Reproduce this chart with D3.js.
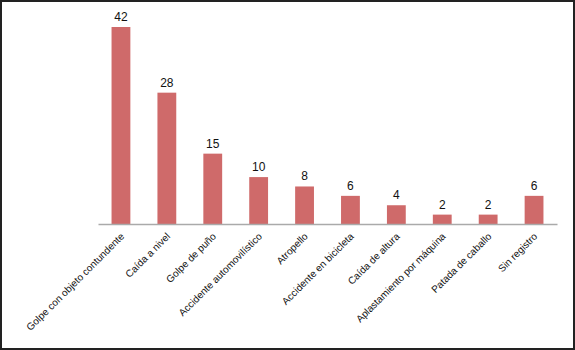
<!DOCTYPE html>
<html>
<head>
<meta charset="utf-8">
<script src="https://cdn.jsdelivr.net/npm/d3@7"></script>
<style>
  body { margin: 0; background: #fff; }
  svg { display: block; }
</style>
</head>
<body>
<div id="chart"></div>
<script>
var categories = ["Golpe con objeto contundente", "Caída a nivel", "Golpe de puño",
  "Accidente automovilístico", "Atropello", "Accidente en bicicleta", "Caída de altura",
  "Aplastamiento por máquina", "Patada de caballo", "Sin registro"];
var values = [42, 28, 15, 10, 8, 6, 4, 2, 2, 6];

var W = 575, H = 350;
var margin = { top: 27, right: 18, bottom: 126, left: 98 },
  width = W - margin.left - margin.right,
  height = H - margin.top - margin.bottom;

var root = d3.select("#chart")
  .append("svg")
  .attr("width", W)
  .attr("height", H);

root.append("rect")
  .attr("x", 1).attr("y", 1)
  .attr("width", W - 2).attr("height", H - 2)
  .attr("fill", "#fff")
  .attr("stroke", "#222")
  .attr("stroke-width", 2);

var svg = root.append("g")
  .attr("transform", "translate(" + margin.left + "," + margin.top + ")");

var x = d3.scaleBand()
  .domain(categories)
  .range([0, width])
  .paddingInner(0.59)
  .paddingOuter(0.295);

var y = d3.scaleLinear()
  .domain([0, 42])
  .range([height, 0]);

svg.selectAll("rect.bar")
  .data(values)
  .enter()
  .append("rect")
  .attr("class", "bar")
  .attr("x", function (d, i) { return x(categories[i]); })
  .attr("y", function (d) { return y(d); })
  .attr("width", x.bandwidth())
  .attr("height", function (d) { return height - y(d); })
  .attr("fill", "#cf6a6a");

svg.selectAll("text.val")
  .data(values)
  .enter()
  .append("text")
  .attr("class", "val")
  .attr("x", function (d, i) { return x(categories[i]) + x.bandwidth() / 2; })
  .attr("y", function (d) { return y(d) - 6; })
  .attr("text-anchor", "middle")
  .style("font-family", "Liberation Sans, Arial, sans-serif")
  .style("font-size", "12px")
  .attr("fill", "#111")
  .text(function (d) { return d; });

var xAxis = svg.append("g")
  .attr("transform", "translate(0," + height + ")")
  .call(d3.axisBottom(x).tickSize(0).tickPadding(0));

xAxis.select(".domain").attr("stroke", "#aaa").attr("stroke-width", 1.5);

xAxis.selectAll("text")
  .style("font-family", "Liberation Sans, Arial, sans-serif")
  .style("font-size", "10px")
  .attr("fill", "#111")
  .attr("text-anchor", "end")
  .attr("dy", null)
  .attr("y", 0)
  .attr("transform", "translate(4,13) rotate(-45)");
</script>
</body>
</html>
